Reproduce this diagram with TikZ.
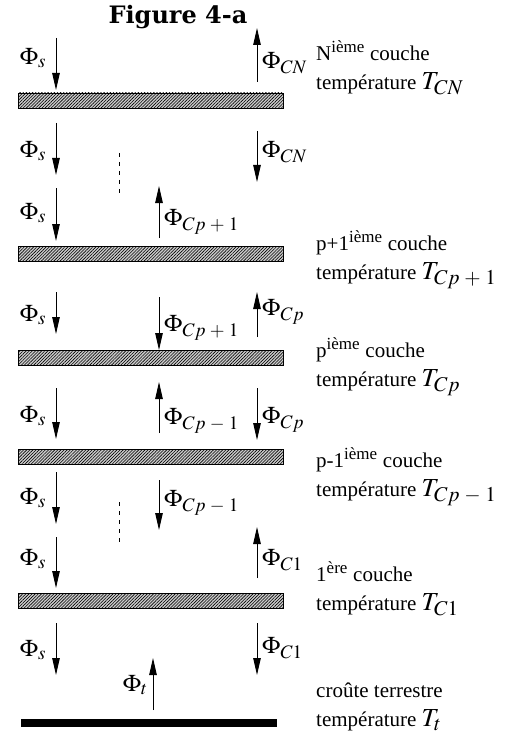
\documentclass[tikz,border=0pt]{standalone}
\usepackage{mathptmx}
\usepackage[no-math]{fontspec}
\setmainfont{Liberation Serif}
\newfontfamily\titlefont{DejaVu Serif}
\DeclareMathSizes{21}{21}{17}{13}
\DeclareMathSizes{24}{24}{19}{14}
\DeclareMathSizes{26}{26}{21}{15}
\newcommand{\bigmath}[1]{{\fontsize{26}{29}\selectfont$#1$}}
\usetikzlibrary{arrows.meta,patterns.meta}

\begin{document}
\begin{tikzpicture}[
    x=1pt, y=-1pt,
    font=\fontsize{21}{29}\selectfont,
    layer/.style={
        draw,
        line width=0.8pt,
        pattern={Lines[angle=45,distance=2.2pt,line width=0.6pt]},
        preaction={fill=gray!40},
        minimum width=265pt,
        minimum height=15pt,
        inner sep=0pt
    },
    ground/.style={
        fill=black,
        minimum width=256pt,
        minimum height=8pt,
        inner sep=0pt
    },
    flux/.style={-{Triangle[length=17pt,width=7.5pt]}, line width=0.9pt},
    dots/.style={dash pattern=on 4pt off 5pt, line width=0.8pt},
    lab/.style={inner sep=0pt, font=\fontsize{24}{26}\selectfont},
    info/.style={anchor=west, align=left, inner sep=0pt}
]
\useasboundingbox (0,0) rectangle (525,738);

\node[inner sep=0pt] (title) at (178,17) {\titlefont\bfseries\fontsize{24}{28}\selectfont Figure 4-a};

% LAYERS
\node[layer] (cN) at (150.5,100.5) {};
\node[layer] (cq) at (150.5,253.5) {};
\node[layer] (cp) at (150.5,358) {};
\node[layer] (cm) at (150.5,456.5) {};
\node[layer] (c1) at (150.5,600.5) {};
\node[ground] (sol) at (149,723) {};

% LAYER N
\coordinate (s1a) at (56,38);
\coordinate (s1b) at (56,90);
\draw[flux] (s1a) -- (s1b);
\node[lab] (ls1) at (33,58) {$\Phi_s$};
\coordinate (n1a) at (257,82);
\coordinate (n1b) at (257,28);
\draw[flux] (n1a) -- (n1b);
\node[lab, anchor=west] (ln1) at (262,63) {$\Phi_{CN}$};
\node[info] (tN) at (316,68)
{N\textsuperscript{ième} couche\\température \bigmath{T_{CN}}};

% BELOW LAYER N
\coordinate (s2a) at (56,123);
\coordinate (s2b) at (56,175);
\draw[flux] (s2a) -- (s2b);
\node[lab] (ls2) at (33,151) {$\Phi_s$};
\coordinate (n2a) at (257,131);
\coordinate (n2b) at (257,182);
\draw[flux] (n2a) -- (n2b);
\node[lab, anchor=west] (ln2) at (262,152) {$\Phi_{CN}$};
\coordinate (d1a) at (119,153);
\coordinate (d1b) at (119,195);
\draw[dots] (d1a) -- (d1b);

% LAYER p+1
\coordinate (s3a) at (56,188);
\coordinate (s3b) at (56,241);
\draw[flux] (s3a) -- (s3b);
\node[lab] (ls3) at (33,213) {$\Phi_s$};
\coordinate (q1a) at (159,238);
\coordinate (q1b) at (159,186);
\draw[flux] (q1a) -- (q1b);
\node[lab, anchor=west] (lq1) at (164,222) {$\Phi_{Cp\;+\;1}$};
\node[info] (tq) at (316,260)
{p+1\textsuperscript{ième} couche\\température \bigmath{T_{Cp\;+\;1}}};

% LAYER p
\coordinate (s4a) at (56,292);
\coordinate (s4b) at (56,334);
\draw[flux] (s4a) -- (s4b);
\node[lab] (ls4) at (33,315) {$\Phi_s$};
\coordinate (q2a) at (159,297);
\coordinate (q2b) at (159,350);
\draw[flux] (q2a) -- (q2b);
\node[lab, anchor=west] (lq2) at (164,328) {$\Phi_{Cp\;+\;1}$};
\coordinate (p1a) at (257,337);
\coordinate (p1b) at (257,292);
\draw[flux] (p1a) -- (p1b);
\node[lab, anchor=west] (lp1) at (262,312) {$\Phi_{Cp}$};
\node[info] (tp) at (316,367)
{p\textsuperscript{ième} couche\\température \bigmath{T_{Cp}}};

% LAYER p-1
\coordinate (s5a) at (56,388);
\coordinate (s5b) at (56,439);
\draw[flux] (s5a) -- (s5b);
\node[lab] (ls5) at (33,416) {$\Phi_s$};
\coordinate (m1a) at (159,433);
\coordinate (m1b) at (159,382);
\draw[flux] (m1a) -- (m1b);
\node[lab, anchor=west] (lm1) at (164,421) {$\Phi_{Cp\;-\;1}$};
\coordinate (p2a) at (257,388);
\coordinate (p2b) at (257,440);
\draw[flux] (p2a) -- (p2b);
\node[lab, anchor=west] (lp2) at (262,420) {$\Phi_{Cp}$};
\node[info] (tm) at (316,477)
{p-1\textsuperscript{ième} couche\\température \bigmath{T_{Cp\;-\;1}}};

% BELOW LAYER p-1
\coordinate (s6a) at (56,472);
\coordinate (s6b) at (56,524);
\draw[flux] (s6a) -- (s6b);
\node[lab] (ls6) at (33,498) {$\Phi_s$};
\coordinate (m2a) at (159,480);
\coordinate (m2b) at (159,530);
\draw[flux] (m2a) -- (m2b);
\node[lab, anchor=west] (lm2) at (164,503) {$\Phi_{Cp\;-\;1}$};
\coordinate (d2a) at (119,502);
\coordinate (d2b) at (119,542);
\draw[dots] (d2a) -- (d2b);

% LAYER 1
\coordinate (s7a) at (56,537);
\coordinate (s7b) at (56,588);
\draw[flux] (s7a) -- (s7b);
\node[lab] (ls7) at (33,559) {$\Phi_s$};
\coordinate (k1a) at (257,578);
\coordinate (k1b) at (257,527);
\draw[flux] (k1a) -- (k1b);
\node[lab, anchor=west] (lk1) at (262,560) {$\Phi_{C1}$};
\node[info] (t1) at (316,589)
{1\textsuperscript{ère} couche\\température \bigmath{T_{C1}}};

% EARTH
\coordinate (s8a) at (56,623);
\coordinate (s8b) at (56,675);
\draw[flux] (s8a) -- (s8b);
\node[lab] (ls8) at (33,650) {$\Phi_s$};
\coordinate (k2a) at (257,623);
\coordinate (k2b) at (257,675);
\draw[flux] (k2a) -- (k2b);
\node[lab, anchor=west] (lk2) at (262,648) {$\Phi_{C1}$};
\coordinate (ta) at (153,710);
\coordinate (tb) at (153,658);
\draw[flux] (ta) -- (tb);
\node[lab, anchor=east] (lt) at (148,685) {$\Phi_t$};
\node[info] (tt) at (316,707)
{croûte terrestre\\température \bigmath{T_t}};

\end{tikzpicture}
\end{document}
